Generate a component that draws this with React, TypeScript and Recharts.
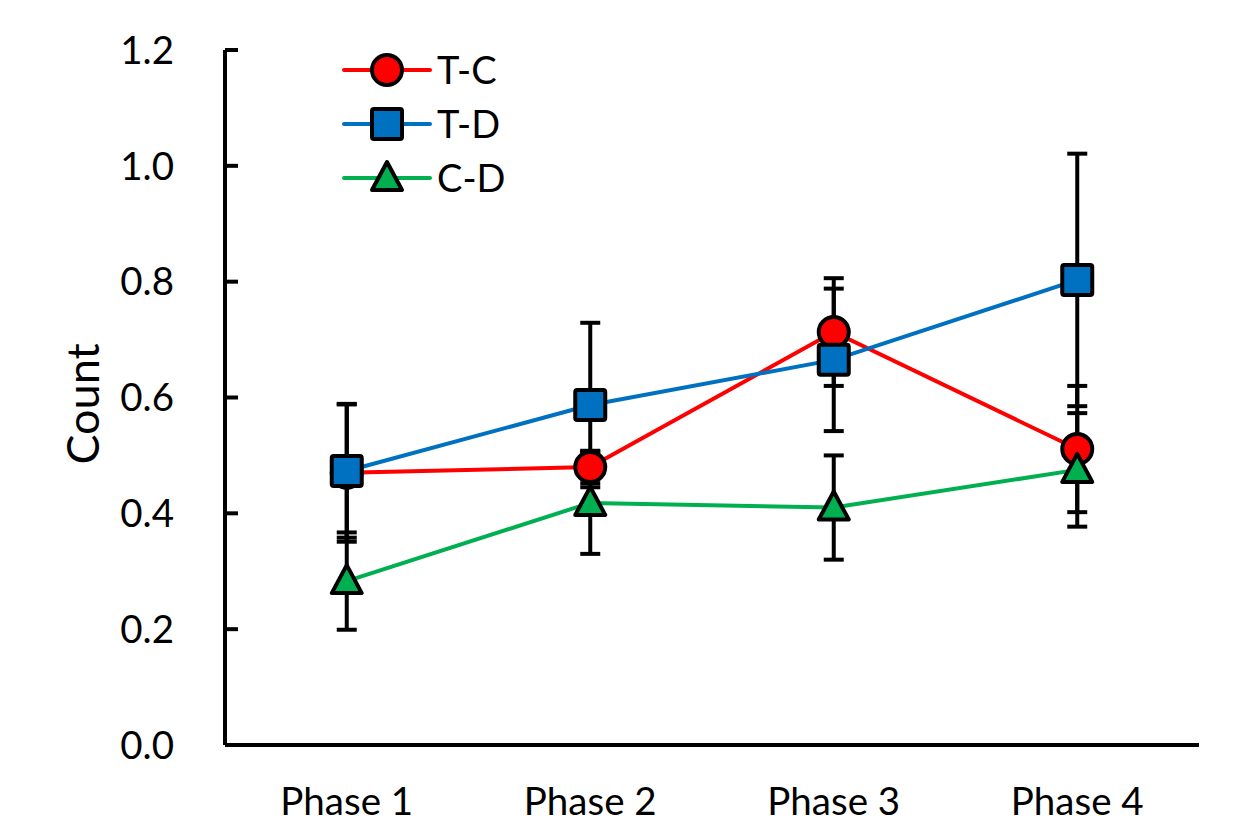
import React from 'react';
import { LineChart, Line, XAxis, YAxis, ErrorBar, Legend } from 'recharts';

const phases = ['Phase 1', 'Phase 2', 'Phase 3', 'Phase 4'];
const seriesNames = ['T-C', 'T-D', 'C-D'];
const tcMean = [0.47, 0.48, 0.713, 0.511];
const tcErr = [0.119, 0.028, 0.093, 0.109];
const tdMean = [0.473, 0.587, 0.665, 0.803];
const tdErr = [0.115, 0.142, 0.123, 0.218];
const cdMean = [0.283, 0.418, 0.41, 0.475];
const cdErr = [0.084, 0.088, 0.09, 0.098];
const yTicks = [0, 0.2, 0.4, 0.6, 0.8, 1.0, 1.2];

const data = phases.map((p, i) => ({
  phase: p,
  tc: tcMean[i],
  tcE: tcErr[i],
  td: tdMean[i],
  tdE: tdErr[i],
  cd: cdMean[i],
  cdE: cdErr[i],
}));

const RED = '#FF0000';
const BLUE = '#0070C0';
const GREEN = '#00B050';
const FONT = 'Lato, "Open Sans", sans-serif';
const SW = 4;

const circle = (cx: number, cy: number, key?: any) => (
  <circle key={key} cx={cx} cy={cy} r={15} fill={RED} stroke="#000" strokeWidth={SW} />
);
const square = (cx: number, cy: number, key?: any) => (
  <rect key={key} x={cx - 15} y={cy - 15} width={30} height={30} rx={2} fill={BLUE} stroke="#000" strokeWidth={SW} strokeLinejoin="round" />
);
const triangle = (cx: number, cy: number, key?: any) => (
  <polygon
    key={key}
    points={`${cx},${cy - 16} ${cx + 15},${cy + 12} ${cx - 15},${cy + 12}`}
    fill={GREEN}
    stroke="#000"
    strokeWidth={SW}
    strokeLinejoin="round"
  />
);

const shapes: Record<string, (cx: number, cy: number, key?: any) => React.ReactElement> = {
  'T-C': circle,
  'T-D': square,
  'C-D': triangle,
};

const makeDot = (fn: (cx: number, cy: number, key?: any) => React.ReactElement) => (props: any) => {
  const { cx, cy, index } = props;
  if (cx == null || cy == null) return <g key={`d${index}`} />;
  return fn(cx, cy, `d${index}`);
};

const LegendContent = (props: any) => {
  const payload = props.payload || [];
  const items = seriesNames
    .map((n) => payload.find((p: any) => p.value === n))
    .filter(Boolean);
  return (
    <svg width={220} height={170}>
      {items.map((it: any, i: number) => {
        const y = 30 + i * 54;
        return (
          <g key={it.value}>
            <line x1={24} x2={110} y1={y} y2={y} stroke={it.color} strokeWidth={SW} strokeLinecap="round" />
            {shapes[it.value](67, y)}
            <text x={117} y={y} dy="0.36em" fontSize={38} fontFamily={FONT} fill="#000">
              {it.value}
            </text>
          </g>
        );
      })}
    </svg>
  );
};

export default function App() {
  return (
    <LineChart
      width={1226}
      height={832}
      data={data}
      margin={{ top: 42, right: 35, left: 97, bottom: 35 }}
    >
      <XAxis
        dataKey="phase"
        scale="band"
        axisLine={{ stroke: '#000', strokeWidth: SW }}
        tickLine={false}
        tickMargin={37}
        height={60}
        tick={{ fill: '#000', fontSize: 38.5, fontFamily: FONT }}
        interval={0}
      />
      <YAxis
        domain={[0, 1.2]}
        ticks={yTicks}
        width={120}
        axisLine={{ stroke: '#000', strokeWidth: SW }}
        tickLine={{ stroke: '#000', strokeWidth: SW }}
        tickSize={-13}
        tickMargin={64}
        tickFormatter={(v: number) => v.toFixed(1)}
        tick={{ fill: '#000', fontSize: 38.5, fontFamily: FONT }}
        label={{
          content: () => (
            <text
              x={74}
              y={396}
              transform="rotate(-90 74 396)"
              textAnchor="middle"
              dominantBaseline="central"
              fontSize={45}
              fontFamily={FONT}
              fill="#000"
            >
              Count
            </text>
          ),
        }}
      />
      <Legend
        layout="horizontal"
        verticalAlign="middle"
        align="center"
        content={<LegendContent />}
        wrapperStyle={{ position: 'absolute', left: 312, top: 32, width: 220, height: 170 }}
      />
      {/* error bars drawn behind everything */}
      <Line dataKey="tc" stroke="none" dot={false} activeDot={false} legendType="none" isAnimationActive={false}>
        <ErrorBar dataKey="tcE" direction="y" width={10} stroke="#000" strokeWidth={SW} isAnimationActive={false} />
      </Line>
      <Line dataKey="td" stroke="none" dot={false} activeDot={false} legendType="none" isAnimationActive={false}>
        <ErrorBar dataKey="tdE" direction="y" width={10} stroke="#000" strokeWidth={SW} isAnimationActive={false} />
      </Line>
      <Line dataKey="cd" stroke="none" dot={false} activeDot={false} legendType="none" isAnimationActive={false}>
        <ErrorBar dataKey="cdE" direction="y" width={10} stroke="#000" strokeWidth={SW} isAnimationActive={false} />
      </Line>
      <Line
        name="T-C"
        dataKey="tc"
        type="linear"
        stroke={RED}
        strokeWidth={SW}
        dot={makeDot(circle)}
        activeDot={false}
        isAnimationActive={false}
      />
      <Line
        name="T-D"
        dataKey="td"
        type="linear"
        stroke={BLUE}
        strokeWidth={SW}
        dot={makeDot(square)}
        activeDot={false}
        isAnimationActive={false}
      />
      <Line
        name="C-D"
        dataKey="cd"
        type="linear"
        stroke={GREEN}
        strokeWidth={SW}
        dot={makeDot(triangle)}
        activeDot={false}
        isAnimationActive={false}
      />
    </LineChart>
  );
}
